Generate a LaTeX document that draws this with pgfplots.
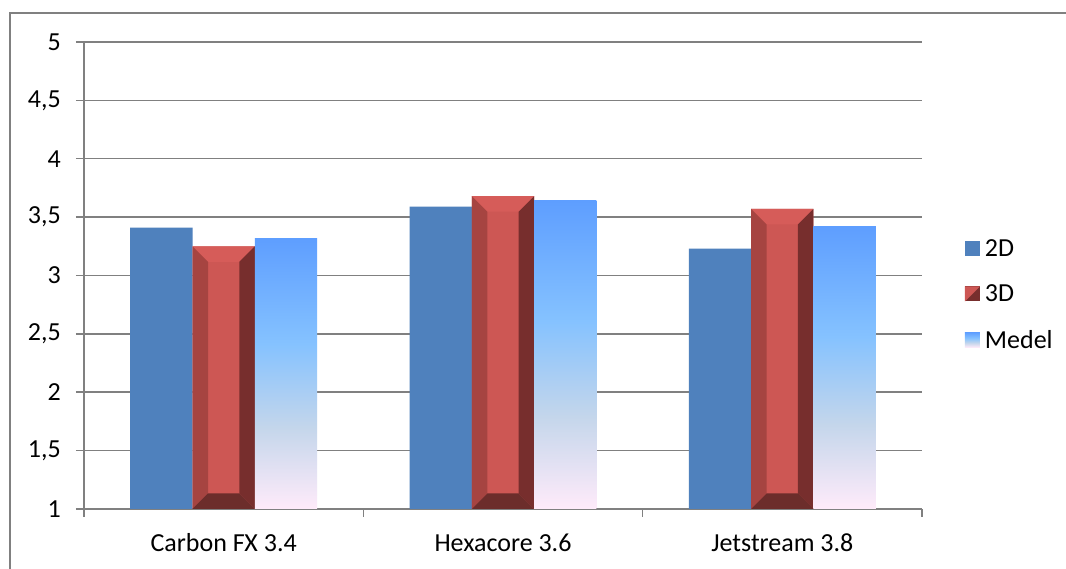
\documentclass[border=0pt]{standalone}
\usepackage{fontspec}
\setmainfont{Carlito}
\usepackage{pgfplots}
\usepackage{pgfplotstable}
\pgfplotsset{compat=1.18}

\definecolor{axgray}{HTML}{808080}
\definecolor{blue2d}{HTML}{4F81BD}
\definecolor{redface}{HTML}{CD5754}
\definecolor{redtop}{HTML}{D65C59}
\definecolor{redleft}{HTML}{A64441}
\definecolor{redright}{HTML}{772E2D}
\definecolor{redbottom}{HTML}{6C2D2B}
\definecolor{db1}{HTML}{5E9EFF}
\definecolor{db2}{HTML}{85C2FF}
\definecolor{db3}{HTML}{C4D6EB}
\definecolor{db4}{HTML}{FFEBFA}

% "Daybreak" gradient: the shaded path maps to 25bp..75bp
\pgfdeclareverticalshading{daybreak}{100bp}{%
  color(0bp)=(db4); color(25bp)=(db4); color(40bp)=(db3);
  color(55.5bp)=(db2); color(75bp)=(db1); color(100bp)=(db1)}

\pgfplotstableread{
x twoD threeD medel
0 3.41 3.25 3.32
1 3.59 3.68 3.64
2 3.23 3.57 3.42
}\chartdata

\newcommand\chartfont{\fontsize{26}{30}\selectfont}

% bar geometry in axis units
\def\barw{0.2231}
\def\halfw{0.11155}
\def\bevx{0.0555}
\def\bevy{0.1328}

% bevelled frame on top of a 3D bar (row index of the table)
\newcommand\bevelbar[1]{%
  \pgfplotstablegetelem{#1}{threeD}\of\chartdata
  \let\barval\pgfplotsretval
  \pgfmathsetmacro\xa{#1-\halfw}%
  \pgfmathsetmacro\xb{#1+\halfw}%
  \pgfmathsetmacro\xc{#1-\halfw+\bevx}%
  \pgfmathsetmacro\xd{#1+\halfw-\bevx}%
  \pgfmathsetmacro\yc{\barval-\bevy}%
  \pgfmathsetmacro\yd{1+\bevy}%
  \edef\bevelcmd{%
    \noexpand\addplot[forget plot, draw=none, fill=redtop]
      coordinates {(\xa,\barval) (\xb,\barval) (\xd,\yc) (\xc,\yc)};
    \noexpand\addplot[forget plot, draw=none, fill=redleft]
      coordinates {(\xa,1) (\xa,\barval) (\xc,\yc) (\xc,\yd)};
    \noexpand\addplot[forget plot, draw=none, fill=redright]
      coordinates {(\xb,1) (\xb,\barval) (\xd,\yc) (\xd,\yd)};
    \noexpand\addplot[forget plot, draw=none, fill=redbottom]
      coordinates {(\xa,1) (\xb,1) (\xd,\yd) (\xc,\yd)};
  }\bevelcmd}

% gradient-filled "Medel" bar (row index of the table)
\newcommand\medelbar[1]{%
  \pgfplotstablegetelem{#1}{medel}\of\chartdata
  \let\barval\pgfplotsretval
  \pgfmathsetmacro\xa{#1+\barw-\halfw}%
  \pgfmathsetmacro\xb{#1+\barw+\halfw}%
  \edef\medelcmd{%
    \noexpand\addplot[forget plot, draw=none, shade, shading=daybreak]
      coordinates {(\xa,1) (\xa,\barval) (\xb,\barval) (\xb,1)};
  }\medelcmd}

\begin{document}
\begin{tikzpicture}
\useasboundingbox (-84pt,-60pt) rectangle (982pt,509pt);
\fill[white] (-84pt,-60pt) rectangle (982pt,509pt);
\draw[axgray, line width=1.8pt] (-74pt,-62pt) -- (-74pt,496pt) -- (984pt,496pt);
\begin{axis}[
  at={(0pt,0pt)}, anchor=south west,
  scale only axis, width=838pt, height=467pt,
  xmin=-0.5, xmax=2.5, ymin=1, ymax=5,
  axis lines*=left,
  axis line style={axgray, line width=1.5pt},
  every tick/.style={axgray, line width=1.5pt},
  tick align=outside, major tick length=8pt,
  xtick={-0.5,0.5,1.5,2.5},
  x tick label as interval,
  xticklabels={Carbon FX 3.4, Hexacore 3.6, Jetstream 3.8},
  ytick={1,1.5,...,5},
  ymajorgrids,
  major grid style={axgray, line width=1.5pt},
  /pgf/number format/use comma,
  /pgf/number format/assume math mode=true,
  tick label style={font=\chartfont, text=black},
  yticklabel style={anchor=east, inner sep=0pt, xshift=-15pt},
  xticklabel style={anchor=base, inner sep=0pt, yshift=-35pt},
  legend style={draw=none, fill=none, font=\chartfont,
    at={(1.051,0.4593)}, anchor=west, inner sep=0pt,
    row sep=23pt,
    /tikz/every odd column/.append style={column sep=3pt}},
  legend cell align=left,
]
\addplot[ybar, forget plot, bar width=\barw, bar shift=-\barw,
  fill=blue2d, draw=none] table[x=x, y=twoD]{\chartdata};
\addplot[ybar, forget plot, bar width=\barw, bar shift=0,
  fill=redface, draw=none] table[x=x, y=threeD]{\chartdata};
\bevelbar{0}
\bevelbar{1}
\bevelbar{2}
\medelbar{0}
\medelbar{1}
\medelbar{2}

\addlegendimage{legend image code/.code={
  \fill[blue2d, draw=none] (0pt,-7.5pt) rectangle (15pt,7.5pt);}}
\addlegendentry{2D}
\addlegendimage{legend image code/.code={
  \fill[redright, draw=none] (0pt,-7.5pt) rectangle (15pt,7.5pt);
  \fill[redface, draw=none] (0pt,-7.5pt) -- (0pt,7.5pt) -- (15pt,7.5pt) -- cycle;}}
\addlegendentry{3D}
\addlegendimage{legend image code/.code={
  \shade[shading=daybreak, draw=none] (0pt,-7.5pt) rectangle (15pt,7.5pt);}}
\addlegendentry{Medel}
\end{axis}
\end{tikzpicture}
\end{document}
